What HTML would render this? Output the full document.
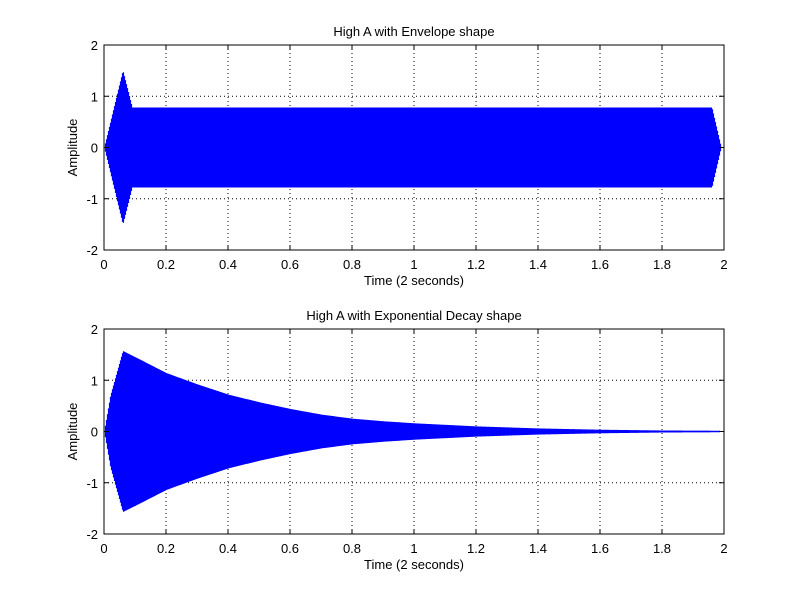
<!DOCTYPE html>
<html><head><meta charset="utf-8"><style>
html,body{margin:0;padding:0;background:#fff;}
svg{display:block;font-family:"Liberation Sans",sans-serif;}
</style></head><body>
<svg id="fig" width="800" height="600" xmlns="http://www.w3.org/2000/svg"></svg>
<script>
const xTicks=[0,0.2,0.4,0.6,0.8,1,1.2,1.4,1.6,1.8,2];
const xTickLabels=["0","0.2","0.4","0.6","0.8","1","1.2","1.4","1.6","1.8","2"];
const yTicks=[-2,-1,0,1,2];
const yTickLabels=["-2","-1","0","1","2"];
const envTimes=[0,0.06,0.09,1.96,1.99];
const envAmps=[0,1.5,0.78,0.78,0];
const decayTimes=[0,0.02,0.06,0.1,0.2,0.3,0.4,0.5,0.6,0.7,0.8,0.9,1.0,1.2,1.4,1.6,1.8,1.985];
const decayAmps=[0,0.7,1.57,1.45,1.14,0.92,0.72,0.57,0.44,0.33,0.25,0.2,0.16,0.1,0.06,0.035,0.02,0.015];
const titles=["High A with Envelope shape","High A with Exponential Decay shape"];
const NS="http://www.w3.org/2000/svg";
const svg=document.getElementById('fig');
function mk(tag,attrs,parent){const e=document.createElementNS(NS,tag);for(const k in attrs)e.setAttribute(k,attrs[k]);(parent||svg).appendChild(e);return e;}
function interp(ts,as,t){if(t<ts[0]||t>ts[ts.length-1])return null;for(let i=1;i<ts.length;i++){if(t<=ts[i]){const f=(t-ts[i-1])/(ts[i]-ts[i-1]);return as[i-1]+f*(as[i]-as[i-1]);}}return as[as.length-1];}
function panel(top,bottom,title,ts,as,key){
  const L=104,R=724;
  const xs=v=>L+(v-0)/(2-0)*(R-L);
  const ys=v=>bottom-(v+2)/4*(bottom-top);
  const g=mk('g',{});
  
  
  mk('rect',{x:L,y:top,width:R-L,height:bottom-top,fill:'#fff'},g);
  // grid
  xTicks.forEach((v,i)=>{
    if(i>0&&i<xTicks.length-1){const l=mk('line',{x1:xs(v),x2:xs(v),y1:top,y2:bottom,stroke:'#000','stroke-width':1,'stroke-dasharray':'1,3'},g);
    }
  });
  yTicks.forEach((v,i)=>{
    if(i>0&&i<yTicks.length-1){const l=mk('line',{x1:L,x2:R,y1:ys(v),y2:ys(v),stroke:'#000','stroke-width':1,'stroke-dasharray':'1,3'},g);
    }
  });
  // signal
  let d='';
  for(let px=L;px<=R;px++){
    const t=(px-L)/(R-L)*2;
    const a=interp(ts,as,t);
    if(a===null)continue;
    const aa=Math.max(a,0.008);
    d+=`M${px+0.5},${ys(aa)}V${ys(-aa)}`;
  }
  const sig=mk('path',{d:d,stroke:'#0000ff','stroke-width':1.2,fill:'none'},g);
  
  
  const last=ts[ts.length-1];
  if(xs(last)<R){const tl=mk('line',{x1:xs(last),x2:R,y1:ys(0),y2:ys(0),stroke:'#0000ff','stroke-width':1},g);
  }
  // box
  mk('rect',{x:L,y:top,width:R-L,height:bottom-top,fill:'none',stroke:'#000','stroke-width':1},g);
  // ticks and labels
  xTicks.forEach((v,i)=>{
    mk('line',{x1:xs(v),x2:xs(v),y1:bottom,y2:bottom-5,stroke:'#000'},g);
    mk('line',{x1:xs(v),x2:xs(v),y1:top,y2:top+5,stroke:'#000'},g);
    const tx=mk('text',{x:xs(v),y:bottom+19,'font-size':13,'text-anchor':'middle',fill:'#000'},g);
    tx.textContent=xTickLabels[i];
    
  });
  yTicks.forEach((v,i)=>{
    mk('line',{x1:L,x2:L+5,y1:ys(v),y2:ys(v),stroke:'#000'},g);
    mk('line',{x1:R,x2:R-5,y1:ys(v),y2:ys(v),stroke:'#000'},g);
    const tx=mk('text',{x:L-6,y:ys(v)+5,'font-size':13,'text-anchor':'end',fill:'#000'},g);
    tx.textContent=yTickLabels[i];
    
  });
  const tt=mk('text',{x:(L+R)/2,y:top-9,'font-size':13,'text-anchor':'middle',fill:'#000'},g);
  tt.textContent=title;
  
  const xl=mk('text',{x:(L+R)/2,y:bottom+35,'font-size':13,'text-anchor':'middle',fill:'#000'},g);
  xl.textContent='Time (2 seconds)';
  
  const cy=(top+bottom)/2;
  const yl=mk('text',{x:77,y:cy,'font-size':13,'text-anchor':'middle',fill:'#000',transform:`rotate(-90 77 ${cy})`},g);
  yl.textContent='Amplitude';
  
}
panel(45,250,titles[0],envTimes,envAmps,'envelope');
panel(329,534,titles[1],decayTimes,decayAmps,'decay');
</script>
</body></html>
